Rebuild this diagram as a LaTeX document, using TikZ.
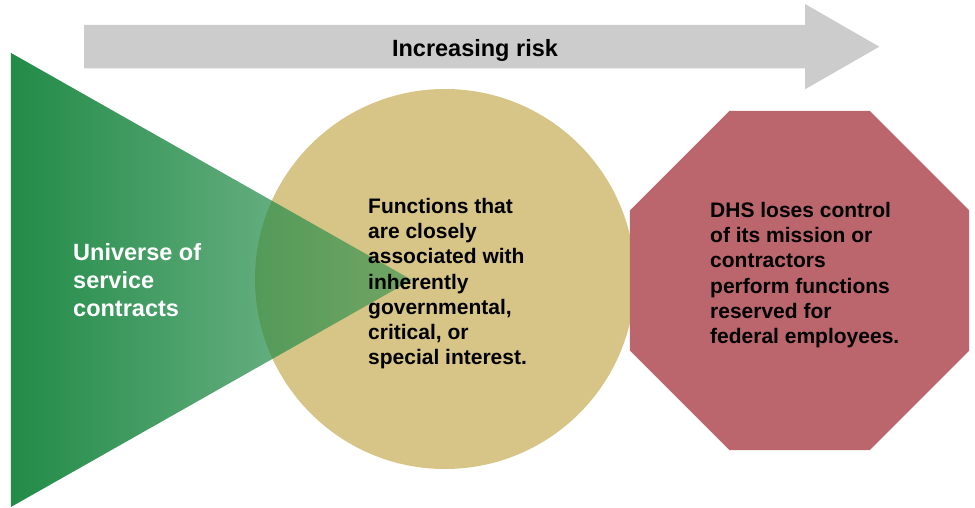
\documentclass[tikz,border=0pt]{standalone}
\usepackage{fontspec}
\setmainfont{Liberation Sans}
\usepackage{xcolor}
\usetikzlibrary{positioning,shapes.geometric,fadings}
\definecolor{riskgray}{RGB}{204,204,204}
\definecolor{riskgreen}{RGB}{34,139,72}
\definecolor{risktan}{RGB}{215,197,135}
\definecolor{riskred}{RGB}{187,101,108}
\tikzfading[name=faderight, left color=transparent!0, right color=transparent!45]

\begin{document}
\begin{tikzpicture}[x=1pt, y=1pt,
  txt/.style={font=\fontsize{21}{25.3}\selectfont\bfseries, align=left, inner sep=0pt, anchor=north west},
  bigtxt/.style={txt, font=\fontsize{23.5}{28.3}\selectfont\bfseries, text=white},
  blob/.style={inner sep=0pt, outer sep=0pt}]
\useasboundingbox (0,0) rectangle (975,507);
% risk arrow (top)
\fill[riskgray] (84,482) -- (805,482) -- (805,503) -- (879.3,460.3) -- (805,417.7) -- (805,438.7) -- (84,438.7) -- cycle;
\node[font=\fontsize{23.5}{28}\selectfont\bfseries, inner sep=0pt, anchor=base] (risk) at (475,450.3) {Increasing risk};
% shapes
\node[blob, circle, fill=risktan, minimum size=380pt] (funcs) at (445,228) {};
\node[blob, regular polygon, regular polygon sides=8, fill=riskred, minimum size=367pt] (loss) at (799.5,226.5) {};
\fill[riskgreen, path fading=faderight] (11,454) -- (412,227) -- (11,0) -- cycle;
% texts
\node[bigtxt] (universe) at (73,264.2) {Universe of\\service\\contracts};
\node[txt] (funcstxt) at (368,309.3) {Functions that\\are closely\\associated with\\inherently\\governmental,\\critical, or\\special interest.};
\node[txt] (losstxt) at (710,305.3) {DHS loses control\\of its mission or\\contractors\\perform functions\\reserved for\\federal employees.};
\end{tikzpicture}
\end{document}
